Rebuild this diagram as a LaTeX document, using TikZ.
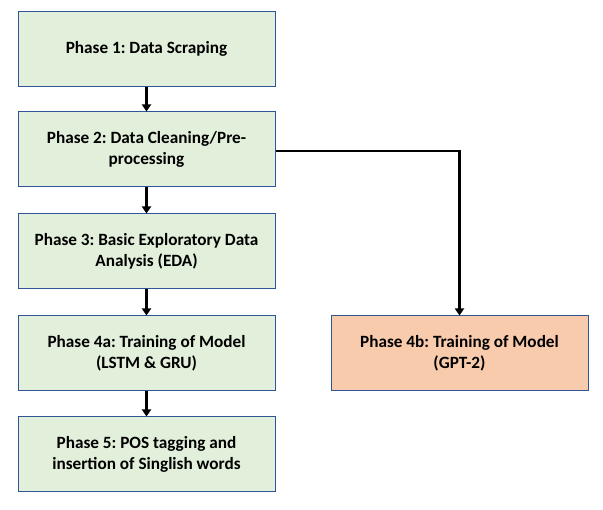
\documentclass[tikz,border=0pt]{standalone}
\usepackage{fontspec}
\setmainfont{Carlito}
\frenchspacing
\usetikzlibrary{arrows.meta}
\definecolor{gfill}{HTML}{E2EFDA}
\definecolor{ofill}{HTML}{F8CBAD}
\definecolor{bord}{HTML}{2F5597}
\begin{document}
\begin{tikzpicture}[x=1pt,y=-1pt,
  phase/.style={draw=bord,line width=1pt,minimum width=257pt,minimum height=75pt,
    align=center,font=\fontsize{17.2}{21}\selectfont\bfseries,inner sep=0pt},
  green/.style={phase,fill=gfill},
  orange/.style={phase,fill=ofill},
  conn/.style={line width=2.6pt,-{Triangle[length=7pt,width=9pt]}}]
\useasboundingbox (0,0) rectangle (603,510);
\node[green] (p1) at (146.5,49) {Phase 1: Data Scraping};
\node[green] (p2) at (146.5,149.5) {Phase 2: Data Cleaning/Pre-\\processing};
\node[green] (p3) at (146.5,251.5) {Phase 3: Basic Exploratory Data\\Analysis (EDA)};
\node[green] (p4a) at (146.5,353.5) {Phase 4a: Training of Model\\(LSTM \& GRU)};
\node[green] (p5) at (146.5,454.5) {Phase 5: POS tagging and\\insertion of Singlish words};
\node[orange] (p4b) at (459.5,353.5) {Phase 4b: Training of Model\\(GPT-2)};
\draw[conn] (p1) -- (p2);
\draw[conn] (p2) -- (p3);
\draw[conn] (p3) -- (p4a);
\draw[conn] (p4a) -- (p5);
\draw[conn] (p2.east |- 0,151) -| (p4b.north);
\end{tikzpicture}
\end{document}
